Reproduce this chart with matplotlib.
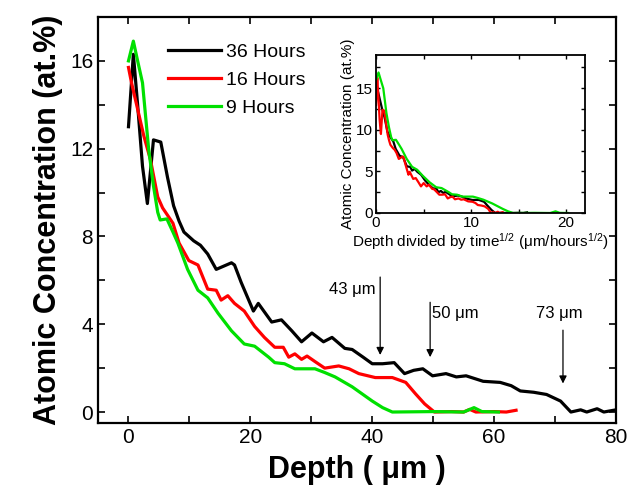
import numpy as np
import matplotlib
matplotlib.use('agg')
import matplotlib.pyplot as plt

plt.rcParams['font.family'] = ['Liberation Sans', 'DejaVu Sans']
plt.rcParams['mathtext.fontset'] = 'custom'
plt.rcParams['mathtext.rm'] = 'Liberation Sans'
plt.rcParams['mathtext.it'] = 'Liberation Sans:italic'

# depth (um) / concentration (at.%)
x36 = [0, 0.8, 1.5, 2.3, 3.1, 4.1, 5.3, 6.4, 7.4, 8.3, 9.1, 10.7, 11.8, 13, 14.4, 16.9,
       17.4, 18.5, 20.5, 21.3, 23.5, 25.1, 26.8, 28.4, 30.1, 32, 33.4, 35.5, 36.7, 38.5,
       40, 41.7, 43.6, 45.3, 46.8, 48.3, 49.9, 52.1, 53.8, 55.4, 58.2, 61, 62.8, 64.3,
       66.5, 68.6, 70.9, 72.6, 74.2, 75.2, 76.9, 78, 80]
y36 = [13.0, 16.3, 14.0, 11.2, 9.5, 12.4, 12.3, 10.7, 9.4, 8.7, 8.2, 7.8, 7.6, 7.2, 6.5, 6.8,
       6.7, 5.9, 4.6, 4.95, 4.1, 4.2, 3.7, 3.2, 3.6, 3.2, 3.4, 2.9, 2.85, 2.5,
       2.2, 2.2, 2.25, 1.75, 1.9, 1.97, 1.65, 1.75, 1.6, 1.65, 1.4, 1.35, 1.2, 0.96,
       0.9, 0.8, 0.5, 0.0, 0.1, 0.0, 0.15, 0.0, 0.1]

x16 = [0, 0.5, 1.5, 2.5, 3.6, 4.8, 5.6, 7.3, 8.3, 9.9, 11.4, 13, 14.4, 15.2, 16.3, 17.4,
       19, 20.7, 22.3, 24, 25.4, 26.3, 27.3, 28.4, 29.3, 30.6, 32.2, 34.5, 36.2, 37.8,
       40.5, 43.3, 45.5, 47.1, 48.6, 50.2, 53, 55, 56, 57, 60, 62, 63.6]
y16 = [15.7, 15.0, 13.8, 12.6, 11.5, 9.8, 9.3, 8.6, 7.7, 6.9, 6.7, 5.6, 5.55, 5.1, 5.3, 4.95,
       4.6, 3.9, 3.4, 2.95, 2.95, 2.5, 2.65, 2.4, 2.55, 2.3, 2.0, 2.1, 1.97, 1.75,
       1.57, 1.57, 1.35, 0.83, 0.37, 0.0, 0.02, 0.0, 0.12, 0.0, 0.02, 0.0, 0.08]

x9 = [0, 0.8, 1.5, 2.3, 3.3, 4.1, 4.8, 5.2, 6.3, 7.3, 8.1, 9.7, 11.4, 13, 14.7, 16.9,
      19, 20.7, 23, 24, 25.6, 27.3, 30.6, 32.2, 33.9, 36.7, 40, 41.7, 43.3, 50, 55,
      56.7, 58, 60.7]
y9 = [16.0, 16.9, 16.0, 15.0, 12.0, 10.3, 9.1, 8.75, 8.8, 8.2, 7.7, 6.5, 5.55, 5.2, 4.5, 3.7,
      3.1, 3.0, 2.5, 2.25, 2.2, 1.97, 1.97, 1.8, 1.6, 1.15, 0.5, 0.2, 0.0, 0.02, 0.0,
      0.2, 0.02, 0.0]

hours = [36, 16, 9]
labels = ['36 Hours', '16 Hours', '9 Hours']
colors = ['black', 'red', '#00e000']
arrow_x = [41.3, 49.5, 71.3]
arrow_top = [6.15, 5.0, 3.73]
arrow_bot = [2.6, 2.5, 1.3]
arrow_txt = ['43 μm', '50 μm', '73 μm']

fig = plt.figure(figsize=(6.34, 4.88), dpi=100)
ax = fig.add_axes([0.1546, 0.1332, 0.8170, 0.832])

series = [(x36, y36), (x16, y16), (x9, y9)]
for (xs, ys), c, lab in zip(series, colors, labels):
    ax.plot(xs, ys, color=c, lw=2.3, label=lab)

ax.set_xlim(-5, 80)
ax.set_ylim(-0.5, 18)
ax.set_xticks([0, 20, 40, 60, 80])
ax.set_xticks(np.arange(0, 81, 10), minor=True)
ax.set_yticks([0, 4, 8, 12, 16])
ax.set_yticks(np.arange(0, 17, 2), minor=True)
ax.tick_params(which='both', direction='in', top=True, right=True, width=1.2,
               length=5, labelsize=15)
for s in ax.spines.values():
    s.set_linewidth(1.6)
ax.set_xlabel('Depth ( μm )', fontsize=22, fontweight='bold', labelpad=6)
ax.set_ylabel('Atomic Concentration (at.%)', fontsize=22, fontweight='bold', labelpad=5)

ax.legend(loc='upper left', bbox_to_anchor=(168 / 634, 1 - 43 / 488),
          bbox_transform=fig.transFigure, frameon=False, fontsize=14,
          handlelength=2.7, handletextpad=0.3, labelspacing=0.55,
          borderpad=0, borderaxespad=0)

# depth arrows
for xa, yt, yb in zip(arrow_x, arrow_top, arrow_bot):
    ax.annotate('', xy=(xa, yb), xytext=(xa, yt),
                arrowprops=dict(arrowstyle='-|>', color='k', lw=0.9,
                                mutation_scale=11, shrinkA=0, shrinkB=0))
ax.text(40.5, 5.6, arrow_txt[0], ha='right', va='center', fontsize=12)
ax.text(49.8, 4.5, arrow_txt[1], ha='left', va='center', fontsize=12)
ax.text(70.7, 4.5, arrow_txt[2], ha='center', va='center', fontsize=12)

# inset: depth scaled by sqrt(time)
ins = fig.add_axes([376 / 634, 1 - 213 / 488, 209 / 634, 158 / 488])
inset_order = [1, 0, 2]
inset_colors = ['black', 'red', '#00e000']
for i, c in zip(inset_order, inset_colors):
    xs, ys = series[i]
    ins.plot(np.array(xs) / np.sqrt(hours[i]), ys, color=c, lw=1.6)
ins.set_xlim(0, 22)
ins.set_ylim(0, 19)
ins.set_xticks([0, 10, 20])
ins.set_xticks([0, 5, 10, 15, 20], minor=True)
ins.set_yticks([0, 5, 10, 15])
ins.set_yticks(np.arange(0, 19, 2.5), minor=True)
ins.tick_params(which='both', direction='in', top=True, right=True, length=3,
                width=1, labelsize=11, pad=2)
for s in ins.spines.values():
    s.set_linewidth(1.3)
ins.set_xlabel('Depth divided by time$^{1/2}$ (μm/hours$^{1/2}$)', fontsize=11, labelpad=1)
ins.set_ylabel('Atomic Concentration (at.%)', fontsize=11, labelpad=1)

fig.savefig('out.png', dpi=100)
